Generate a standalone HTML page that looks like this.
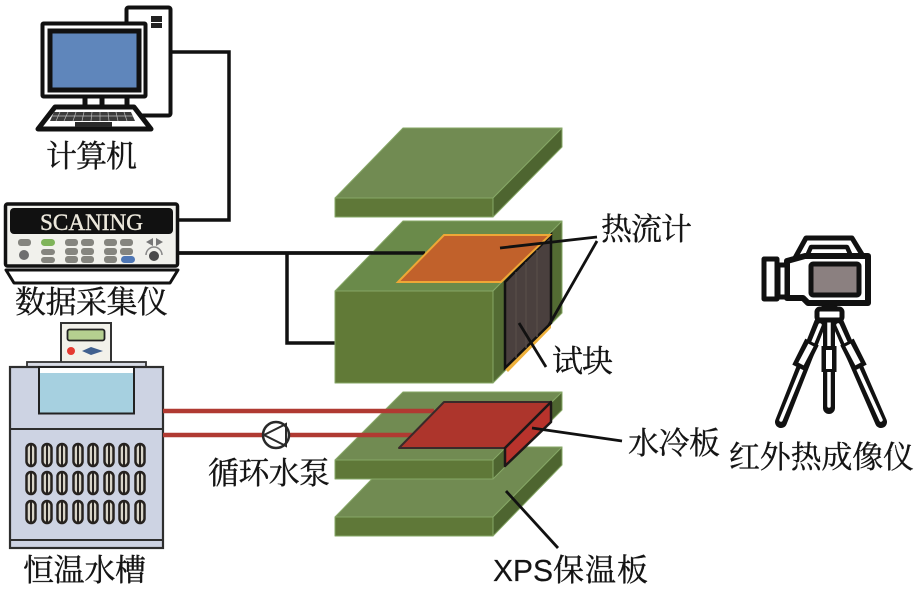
<!DOCTYPE html>
<html><head><meta charset="utf-8"><style>
html,body{margin:0;padding:0;background:#fff}
svg{display:block}
text{font-family:"Noto Serif CJK SC","Liberation Serif",serif;font-size:31px;fill:#141414;stroke:#141414;stroke-width:.35}
</style></head><body>
<svg width="918" height="590" viewBox="0 0 918 590" xmlns="http://www.w3.org/2000/svg">
<rect width="918" height="590" fill="#fff"/>

<!-- cables -->
<g fill="none" stroke="#111" stroke-width="3.500">
<path d="M171 52H229V220H178"/>
<path d="M178 253H425"/>
<path d="M287 253V343H335"/>
</g>

<!-- computer -->
<rect x="126.500" y="7.500" width="44" height="108" rx="2" fill="#fff" stroke="#111" stroke-width="4"/>
<rect x="151" y="16" width="11" height="6" fill="#222"/><rect x="151" y="23" width="11" height="5" fill="#222"/>
<rect x="42.500" y="23.500" width="103" height="73" rx="1" fill="#fff" stroke="#111" stroke-width="4"/>
<rect x="50" y="31" width="89" height="59" fill="#5f86bb" stroke="#111" stroke-width="5"/>
<g stroke="#111" stroke-width="5"><path d="M85 97V107M102 97V107M127 97V107"/></g>
<path d="M38 129L55 107H134L151 129Z" fill="#fff" stroke="#111" stroke-width="5" stroke-linejoin="round"/>
<path d="M54 112H131L135 121H50Z" fill="#3c3c3c"/>
<path d="M75 122H112V127H75Z" fill="#2a2a2a"/>
<g stroke="#bbb" stroke-width="0.700"><path d="M60 112L56 121M68 112L64 121M76 112L73 121M84 112L82 121M92 112L91 121M100 112L100 121M108 112L109 121M116 112L118 121M124 112L127 121M51 116H133"/></g>

<!-- scanner -->
<rect x="5.500" y="204" width="172" height="62" rx="2" fill="#f1f1ec" stroke="#111" stroke-width="3.500"/>
<rect x="10" y="208" width="163" height="26" rx="4" fill="#111"/>
<text x="40" y="230" textLength="103" lengthAdjust="spacingAndGlyphs" style="font-family:'Liberation Serif',serif;font-size:23px;fill:#ece8dc;stroke:#ece8dc;stroke-width:.4">SCANING</text>
<g fill="#85857f">
<rect x="18" y="239" width="13" height="7" rx="3"/>
<rect x="65" y="239" width="13" height="7" rx="3"/><rect x="81" y="239" width="13" height="7" rx="3"/><rect x="104" y="239" width="13" height="7" rx="3"/><rect x="120" y="239" width="13" height="7" rx="3"/>
<rect x="41" y="249" width="14" height="6" rx="3"/><rect x="65" y="248" width="13" height="7" rx="3"/><rect x="81" y="248" width="13" height="7" rx="3"/><rect x="104" y="248" width="13" height="7" rx="3"/><rect x="120" y="248" width="13" height="7" rx="3"/>
<rect x="41" y="257" width="14" height="6" rx="3"/><rect x="65" y="256" width="13" height="7" rx="3"/><rect x="81" y="256" width="13" height="7" rx="3"/><rect x="104" y="256" width="13" height="7" rx="3"/>
<circle cx="24" cy="255" r="5" fill="#6f6f6f"/>
<path d="M146 242L153 238V246ZM156 238L163 242L156 246Z" fill="#777"/>
</g>
<rect x="41" y="239" width="14" height="7" rx="3.500" fill="#7fb45a"/>
<rect x="121" y="256" width="14" height="7" rx="3.500" fill="#4f77b5"/>
<circle cx="154" cy="256" r="5" fill="#4a4a4a"/>
<path d="M146 255A8 8 0 0 1 162 255" fill="none" stroke="#888" stroke-width="1.500"/>
<path d="M6 270H178L170 283H14Z" fill="#fff" stroke="#111" stroke-width="3" stroke-linejoin="round"/>

<!-- water bath -->
<rect x="61" y="323" width="50" height="40" fill="#f2f1ea" stroke="#333" stroke-width="2"/>
<rect x="67.500" y="329.500" width="37" height="11" rx="2" fill="#b5cf90" stroke="#222" stroke-width="1.800"/>
<circle cx="71" cy="351" r="4" fill="#e53a32"/>
<path d="M82 351L91 347L103 351L91 355Z" fill="#40608f"/>
<rect x="27" y="362" width="119" height="5" fill="#d9dce6" stroke="#333" stroke-width="1.800"/>
<rect x="10" y="367" width="153" height="181" fill="#cdd3e3" stroke="#2e2e2e" stroke-width="2.200"/>
<path d="M10 429H163" stroke="#2e2e2e" stroke-width="2"/>
<path d="M10 540H163" stroke="#2e2e2e" stroke-width="2"/>
<rect x="39" y="367" width="95" height="46.500" fill="#a6d0e0" stroke="#222" stroke-width="2"/>
<rect x="40" y="368" width="93" height="5" fill="#fff"/>
<defs>
<g id="slot"><rect x="-4.500" y="-11" width="9" height="22" rx="4.500" fill="#d8d4c8" stroke="#26221f" stroke-width="2.500"/><path d="M0 -11V11" stroke="#26221f" stroke-width="2"/></g>
</defs>
<use href="#slot" x="31" y="455"/><use href="#slot" x="47" y="455"/><use href="#slot" x="62" y="455"/><use href="#slot" x="78" y="455"/><use href="#slot" x="93" y="455"/><use href="#slot" x="109" y="455"/><use href="#slot" x="124" y="455"/><use href="#slot" x="140" y="455"/>
<use href="#slot" x="31" y="483"/><use href="#slot" x="47" y="483"/><use href="#slot" x="62" y="483"/><use href="#slot" x="78" y="483"/><use href="#slot" x="93" y="483"/><use href="#slot" x="109" y="483"/><use href="#slot" x="124" y="483"/><use href="#slot" x="140" y="483"/>
<use href="#slot" x="31" y="512"/><use href="#slot" x="47" y="512"/><use href="#slot" x="62" y="512"/><use href="#slot" x="78" y="512"/><use href="#slot" x="93" y="512"/><use href="#slot" x="109" y="512"/><use href="#slot" x="124" y="512"/><use href="#slot" x="140" y="512"/>

<!-- top plate -->
<g stroke="#86a766" stroke-width="1" stroke-linejoin="round">
<path d="M335 198L403 128H562L493 198Z" fill="#718b52"/>
<path d="M335 198H493V217H335Z" fill="#5f7838"/>
<path d="M493 198L562 128V147L493 217Z" fill="#4e6530"/>
</g>

<!-- middle block -->
<g stroke="#86a766" stroke-width="1" stroke-linejoin="round">
<path d="M335 291L403 221H562L493 291Z" fill="#6a8a4a"/>
<path d="M335 291H493V383H335Z" fill="#617a37"/>
<path d="M493 291L562 221V313L493 383Z" fill="#536b33"/>
</g>
<path d="M178 253H425" stroke="#111" stroke-width="3.500"/>
<path d="M505 369L551 323L551 328L508 372Z" fill="#eeb13c"/>
<path d="M505 282L551 235V323L505 368Z" fill="#4a403e" stroke="#111" stroke-width="2.500"/>
<g stroke="#544a47" stroke-width="1.500"><path d="M516 272V358M526 262V348M537 250V337"/></g>
<path d="M398 282L444 235H550L501 282Z" fill="#c1612b" stroke="#eea736" stroke-width="2"/>

<!-- XPS plate -->
<g stroke="#86a766" stroke-width="1" stroke-linejoin="round">
<path d="M335 517L403 447H562L493 517Z" fill="#718b52"/>
<path d="M335 517H493V536H335Z" fill="#5f7838"/>
<path d="M493 517L562 447V465L493 536Z" fill="#4e6530"/>
</g>
<!-- lower plate -->
<g stroke="#86a766" stroke-width="1" stroke-linejoin="round">
<path d="M335 460L403 392H562L493 460Z" fill="#718b52"/>
<path d="M335 460H493V479H335Z" fill="#5f7838"/>
<path d="M493 460L562 392V410L493 479Z" fill="#4e6530"/>
</g>

<!-- pipes -->
<path d="M163 411H434M163 435H263M289 435H412" stroke="#b03a32" stroke-width="4.500" fill="none"/>
<circle cx="276" cy="435" r="13" fill="#fff" stroke="#2a2a2a" stroke-width="2.500"/>
<path d="M264 435L286 424V446Z" fill="none" stroke="#2a2a2a" stroke-width="2"/>

<!-- cold plate -->
<path d="M399 448L444 402H551L505 448Z" fill="#ad352c" stroke="#3a2a2a" stroke-width="2" stroke-linejoin="round"/>
<path d="M505 448L551 402V422L505 466Z" fill="#b8332c" stroke="#1e1818" stroke-width="2.500" stroke-linejoin="round"/>

<!-- leaders -->
<g stroke="#111" stroke-width="2.800" fill="none">
<path d="M500 248L597 237"/>
<path d="M549 325L597 241"/>
<path d="M519 323L546 367"/>
<path d="M532 428L622 441"/>
<path d="M506 491L558 548"/>
</g>

<!-- camera -->
<g stroke-linejoin="round" stroke-linecap="round">
<path d="M795 258L806 238H852L863 256" fill="#fff" stroke="#111" stroke-width="5"/>
<path d="M807 256L811 247H847L851 256Z" fill="#fff" stroke="#111" stroke-width="4.500"/>
<path d="M787 261L805 256H868V303H808L803 298H787Z" fill="#fff" stroke="#111" stroke-width="6"/>
<rect x="764" y="259" width="13" height="40" fill="#fff" stroke="#111" stroke-width="5"/>
<rect x="778" y="265" width="9" height="32" fill="#fff" stroke="#111" stroke-width="5"/>
<rect x="811" y="264" width="48" height="31" rx="2" fill="#8b8080" stroke="#111" stroke-width="5"/>
</g>
<g fill="none" stroke-linecap="round">
<path d="M829 320V408M820 323L781 422M838 323L881 422" stroke="#111" stroke-width="12"/>
<path d="M829 322V406M820 325L781 420M838 325L881 420" stroke="#fff" stroke-width="3.500"/>
<path d="M829 346V372M812 342L799 368M847 342L860 368" stroke="#111" stroke-width="15" stroke-linecap="butt"/>
<path d="M829 350V369M811 345L801 364M848 345L858 364" stroke="#fff" stroke-width="6" stroke-linecap="butt"/>
</g>
<rect x="817" y="309" width="25" height="11" rx="3" fill="#fff" stroke="#111" stroke-width="5"/>
<path d="M820 307Q829 302 839 307Z" fill="#111"/>

<!-- labels -->
<text x="46" y="167" textLength="91">计算机</text>
<text x="15" y="313" textLength="153">数据采集仪</text>
<text x="23" y="581" textLength="123">恒温水槽</text>
<text x="208" y="484" textLength="122">循环水泵</text>
<text x="601" y="240" textLength="91">热流计</text>
<text x="552" y="372" textLength="61">试块</text>
<text x="628" y="454" textLength="92">水冷板</text>
<text x="729" y="468" textLength="185">红外热成像仪</text>
<text x="493" y="581" textLength="60" lengthAdjust="spacingAndGlyphs" style="font-family:'Liberation Sans',sans-serif;font-size:31px;stroke-width:.2">XPS</text>
<text x="553" y="581" textLength="95">保温板</text>
</svg>
</body></html>
